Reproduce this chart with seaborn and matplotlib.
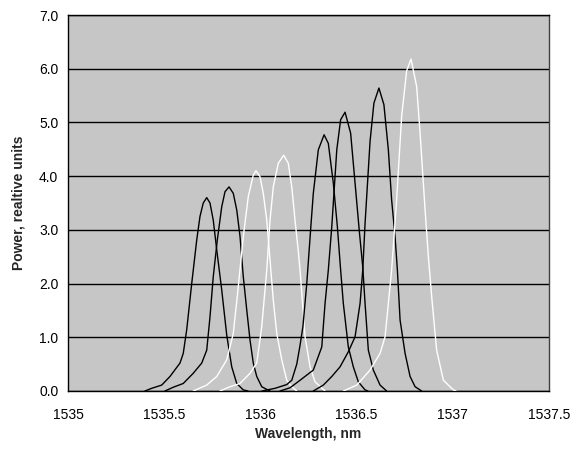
import matplotlib
matplotlib.use("Agg")
import matplotlib.pyplot as plt
import seaborn as sns
import pandas as pd

# Spectra (wavelength in nm, power in relative units)
wl_1 = [1535.400, 1535.435, 1535.487, 1535.530, 1535.582, 1535.599, 1535.617, 1535.643,
        1535.669, 1535.686, 1535.703, 1535.721, 1535.738, 1535.755, 1535.773, 1535.799,
        1535.825, 1535.851, 1535.877, 1535.911, 1535.936]
pw_1 = [0.00, 0.05, 0.11, 0.27, 0.52, 0.70, 1.14, 2.00, 2.81, 3.25, 3.50, 3.60, 3.50,
        3.18, 2.63, 1.88, 1.04, 0.45, 0.14, 0.02, 0.00]

wl_2 = [1535.504, 1535.547, 1535.599, 1535.651, 1535.695, 1535.721, 1535.738, 1535.755,
        1535.776, 1535.799, 1535.816, 1535.837, 1535.859, 1535.877, 1535.894, 1535.911,
        1535.929, 1535.946, 1535.963, 1535.981, 1536.007, 1536.033, 1536.050]
pw_2 = [0.00, 0.07, 0.14, 0.33, 0.52, 0.76, 1.38, 2.13, 2.81, 3.43, 3.71, 3.80, 3.68,
        3.37, 2.88, 2.13, 1.51, 0.95, 0.52, 0.27, 0.08, 0.03, 0.00]

wl_3 = [1535.651, 1535.721, 1535.773, 1535.825, 1535.859, 1535.885, 1535.911, 1535.937,
        1535.963, 1535.977, 1535.998, 1536.015, 1536.033, 1536.050, 1536.067, 1536.085,
        1536.111, 1536.137, 1536.163, 1536.189]
pw_3 = [0.00, 0.11, 0.27, 0.58, 1.07, 1.94, 2.87, 3.62, 4.02, 4.10, 3.99, 3.68, 3.18,
        2.44, 1.69, 1.07, 0.58, 0.20, 0.08, 0.00]

wl_4 = [1535.790, 1535.842, 1535.894, 1535.946, 1535.981, 1536.007, 1536.033, 1536.050,
        1536.067, 1536.093, 1536.121, 1536.145, 1536.163, 1536.180, 1536.197, 1536.206,
        1536.232, 1536.258, 1536.284, 1536.336]
pw_4 = [0.00, 0.08, 0.14, 0.33, 0.52, 1.20, 2.25, 3.18, 3.80, 4.24, 4.39, 4.24, 3.80,
        3.18, 2.60, 2.25, 1.01, 0.45, 0.17, 0.00]

wl_5 = [1536.008, 1536.076, 1536.137, 1536.163, 1536.189, 1536.206, 1536.221, 1536.241,
        1536.249, 1536.263, 1536.275, 1536.301, 1536.331, 1536.353, 1536.379, 1536.400,
        1536.416, 1536.431, 1536.457, 1536.483, 1536.509, 1536.544, 1536.559]
pw_5 = [0.00, 0.05, 0.12, 0.20, 0.50, 0.85, 1.20, 2.00, 2.40, 3.10, 3.68, 4.49, 4.77,
        4.61, 3.87, 3.06, 2.30, 1.63, 0.82, 0.45, 0.17, 0.02, 0.00]

wl_6 = [1536.102, 1536.154, 1536.206, 1536.275, 1536.319, 1536.336, 1536.353, 1536.371,
        1536.397, 1536.417, 1536.440, 1536.469, 1536.492, 1536.514, 1536.532, 1536.544,
        1536.561, 1536.587, 1536.622, 1536.656]
pw_6 = [0.00, 0.06, 0.20, 0.39, 0.82, 1.63, 2.25, 3.06, 4.49, 5.05, 5.19, 4.80, 3.87,
        2.98, 2.31, 1.63, 0.76, 0.39, 0.11, 0.00]

wl_7 = [1536.275, 1536.327, 1536.371, 1536.414, 1536.457, 1536.492, 1536.518, 1536.532,
        1536.544, 1536.570, 1536.590, 1536.616, 1536.642, 1536.665, 1536.682, 1536.700,
        1536.712, 1536.726, 1536.752, 1536.778, 1536.804, 1536.838]
pw_7 = [0.00, 0.11, 0.27, 0.45, 0.73, 1.01, 1.63, 2.25, 3.12, 4.65, 5.36, 5.64, 5.33,
        4.49, 3.56, 2.87, 2.25, 1.32, 0.70, 0.27, 0.08, 0.00]

wl_8 = [1536.431, 1536.501, 1536.570, 1536.622, 1536.648, 1536.665, 1536.682, 1536.708,
        1536.734, 1536.760, 1536.783, 1536.812, 1536.830, 1536.856, 1536.873, 1536.892,
        1536.916, 1536.951, 1537.003, 1537.017]
pw_8 = [0.00, 0.11, 0.39, 0.70, 1.01, 1.63, 2.25, 3.56, 5.11, 5.96, 6.18, 5.67, 4.80,
        3.37, 2.50, 1.69, 0.76, 0.20, 0.02, 0.00]

curves = [(wl_1, pw_1, "black"), (wl_2, pw_2, "black"), (wl_3, pw_3, "white"),
          (wl_4, pw_4, "white"), (wl_5, pw_5, "black"), (wl_6, pw_6, "black"),
          (wl_7, pw_7, "black"), (wl_8, pw_8, "white")]

x_ticks = [1535, 1535.5, 1536, 1536.5, 1537, 1537.5]
x_tick_labels = ["1535", "1535.5", "1536", "1536.5", "1537", "1537.5"]
y_ticks = [0, 1, 2, 3, 4, 5, 6, 7]

sns.set_style("white")
plt.rcParams["font.family"] = ["Liberation Sans", "DejaVu Sans"]

fig = plt.figure(figsize=(5.8, 4.51), dpi=100)
ax = fig.add_axes([68 / 580, 1 - 391 / 451, (549 - 68) / 580, (391 - 15) / 451])
ax.set_facecolor("#c6c6c6")

for wl, pw, col in curves:
    df = pd.DataFrame({"wl": wl, "pw": pw})
    sns.lineplot(data=df, x="wl", y="pw", color=col, lw=1.0, sort=False,
                 estimator=None, ax=ax, zorder=3)

ax.set_xlim(1535, 1537.5)
ax.set_ylim(0, 7)
ax.set_xticks(x_ticks)
ax.set_xticklabels(x_tick_labels)
ax.set_yticks(y_ticks)
ax.set_yticklabels([f"{v:.1f}" for v in y_ticks])
ax.yaxis.grid(True, color="black", lw=1.0)
ax.xaxis.grid(False)
ax.set_axisbelow(True)

for side in ["left", "bottom", "right", "top"]:
    ax.spines[side].set_visible(True)
    ax.spines[side].set_color("black")
    ax.spines[side].set_linewidth(1.0)
ax.spines["right"].set_color("#404040")

ax.tick_params(axis="both", direction="out", length=4, width=1, color="black",
               labelsize=10, labelcolor="black", pad=3)
ax.tick_params(axis="x", pad=8)

ax.set_xlabel("Wavelength, nm", fontsize=10, fontweight="bold", labelpad=4)
ax.set_ylabel("Power, realtive units", fontsize=10, fontweight="bold", labelpad=10)

fig.savefig("out.png", dpi=100, facecolor="white")
